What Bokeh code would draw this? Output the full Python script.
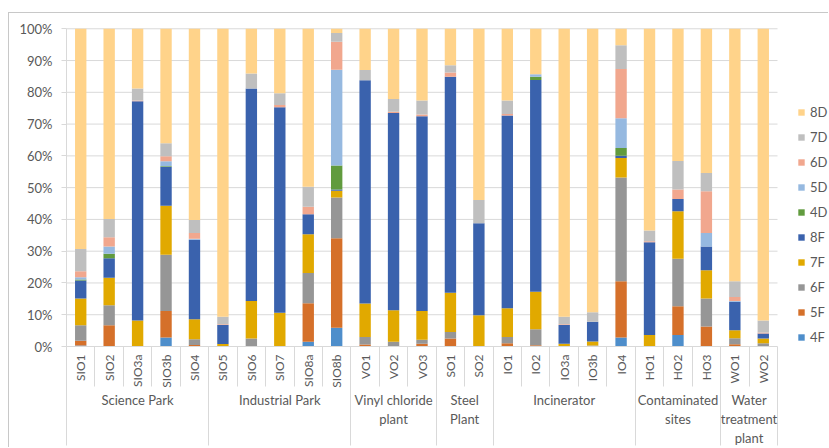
from math import pi
from bokeh.plotting import figure
from bokeh.models import (ColumnDataSource, Range1d, LinearAxis, FixedTicker, Legend,
                          LegendItem, NumeralTickFormatter)
from bokeh.embed import file_html
from bokeh.resources import INLINE

sites = ["SIO1", "SIO2", "SIO3a", "SIO3b", "SIO4", "SIO5", "SIO6", "SIO7", "SIO8a", "SIO8b",
         "VO1", "VO2", "VO3", "SO1", "SO2", "IO1", "IO2", "IO3a", "IO3b", "IO4",
         "HO1", "HO2", "HO3", "WO1", "WO2"]
groups = ["Science Park", "Industrial Park", "Vinyl chloride\nplant", "Steel\nPlant",
          "Incinerator", "Contaminated\nsites", "Water\ntreatment\nplant"]
group_sizes = [5, 5, 3, 2, 5, 3, 2]

series = ["4F", "5F", "6F", "7F", "8F", "4D", "5D", "6D", "7D", "8D"]
v4F = [0.3, 0, 0, 2.8, 0, 0, 0, 0, 1.5, 5.9, 0, 0, 0, 0, 0, 0, 0, 0, 0, 2.8, 0, 3.6, 0, 0, 0]
v5F = [1.5, 6.7, 0, 8.4, 0.5, 0, 0, 0, 12.1, 28.2, 0.6, 0, 0.9, 2.5, 0, 1.0, 0.4, 0, 0, 17.7, 0, 9.1, 6.3, 0.7, 0]
v6F = [4.9, 6.3, 0, 17.7, 1.8, 0, 2.5, 0, 9.5, 12.8, 2.4, 1.5, 1.2, 2.1, 0, 2.0, 5.0, 0, 0.3, 32.7, 0, 14.9, 8.8, 1.9, 1.0]
v7F = [8.4, 8.6, 8.2, 15.4, 6.3, 0.8, 11.8, 10.6, 12.2, 2.1, 10.5, 9.9, 9.1, 12.3, 9.8, 9.0, 11.8, 0.9, 1.3, 6.1, 3.6, 15.0, 8.9, 2.5, 1.5]
v8F = [5.7, 6.2, 69.0, 12.2, 25.0, 6.0, 66.9, 64.7, 6.3, 0.4, 70.3, 62.1, 61.3, 68.0, 29.0, 60.7, 66.7, 5.9, 6.2, 0.7, 29.2, 3.8, 7.5, 9.0, 1.6]
v4D = [0.3, 1.4, 0, 0.2, 0, 0, 0, 0, 0, 7.6, 0, 0, 0, 0, 0, 0, 1.0, 0, 0, 2.5, 0, 0, 0, 0, 0]
v5D = [0.7, 2.3, 0, 1.6, 0.3, 0, 0, 0, 0, 30.1, 0, 0, 0, 0, 0, 0, 0.8, 0, 0, 9.3, 0, 0, 4.2, 0.2, 0]
v6D = [1.9, 2.9, 0.2, 1.6, 1.8, 0.2, 0, 0.7, 2.4, 8.8, 0, 0.4, 0.5, 1.3, 0, 0.5, 0, 0.2, 0, 15.5, 0.3, 3.0, 13.2, 1.3, 0.3]
v7D = [7.0, 5.7, 3.8, 4.1, 4.1, 2.4, 4.7, 3.7, 6.3, 2.8, 3.2, 4.0, 4.4, 2.3, 7.3, 4.2, 0, 2.4, 3.0, 7.5, 3.4, 9.0, 5.7, 4.9, 3.8]
v8D = [69.3, 59.9, 18.8, 36.0, 60.2, 90.6, 14.1, 20.3, 49.7, 1.3, 13.0, 22.1, 22.6, 11.5, 53.9, 22.6, 14.3, 90.6, 89.2, 5.2, 63.5, 41.6, 45.4, 79.5, 91.8]
values = [v4F, v5F, v6F, v7F, v8F, v4D, v5D, v6D, v7D, v8D]
colors = ["#4E8ECB", "#D5702A", "#969696", "#E1A900", "#3A62AD",
          "#619B3E", "#96B9E0", "#F1A78E", "#BFBFBF", "#FFD38A"]
yticks = [i / 10 for i in range(11)]

TXT = "#595959"
GRID = "#d9d9d9"
FONT = "Lato"

n = len(sites)
x = [i + 0.5 for i in range(n)]
totals = [sum(v[i] for v in values) for i in range(n)]
data = {"x": x}
for s, v in zip(series, values):
    data[s] = [v[i] / totals[i] for i in range(n)]
src = ColumnDataSource(data)

# layout (page pixels): frame 66..829 horizontally, bars occupy 66..777
x_end = n * (829 - 66) / (777 - 66)
p = figure(width=820, height=435, output_backend="svg", toolbar_location=None,
           x_range=Range1d(0, x_end), y_range=Range1d(0, 1.004),
           x_axis_location=None, min_border_left=57, min_border_right=0,
           min_border_top=14, min_border_bottom=100)
p.stylesheets = [":host { margin-left: 8px; margin-top: 12px; "
                 "border-top: 1px solid #c8c8c8; border-left: 1px solid #c8c8c8; }"]
p.outline_line_color = None
p.xgrid.visible = False
p.ygrid.visible = False

gl = [t for t in yticks if t > 0]
p.segment(x0=[0] * len(gl), x1=[n] * len(gl), y0=gl, y1=gl,
          line_color=GRID, line_width=1, level="underlay")

rs = p.vbar_stack(series, x="x", width=0.4, color=colors, source=src, line_width=0)

ya = p.yaxis[0]
ya.ticker = FixedTicker(ticks=yticks)
ya.bounds = (0, 1)
ya.formatter = NumeralTickFormatter(format="0%")
ya.axis_line_color = GRID
ya.major_tick_line_color = GRID
ya.major_tick_out = 5
ya.major_tick_in = 0
ya.minor_tick_line_color = None
ya.major_label_standoff = 9
ya.major_label_text_font = FONT
ya.major_label_text_font_size = "13px"
ya.major_label_text_color = TXT

# site labels + separators between bars
xa1 = LinearAxis(ticker=FixedTicker(ticks=x, minor_ticks=list(range(n + 1))),
                 major_label_overrides={c: s for c, s in zip(x, sites)}, bounds=(0, n))
xa1.major_label_orientation = pi / 2
xa1.major_tick_line_color = None
xa1.major_tick_out = 0
xa1.major_tick_in = 0
xa1.minor_tick_out = 40
xa1.minor_tick_in = 0
xa1.minor_tick_line_color = GRID
xa1.axis_line_color = GRID
xa1.major_label_standoff = 8 - 40
xa1.major_label_text_font = FONT
xa1.major_label_text_font_size = "12px"
xa1.major_label_text_color = TXT
p.add_layout(xa1, "below")

# group labels + group separators
bounds = [0]
for g in group_sizes:
    bounds.append(bounds[-1] + g)
gcent = [(bounds[i] + bounds[i + 1]) / 2 for i in range(len(group_sizes))]
xa2 = LinearAxis(ticker=FixedTicker(ticks=gcent, minor_ticks=bounds),
                 major_label_overrides={c: g for c, g in zip(gcent, groups)}, bounds=(0, n))
xa2.major_tick_line_color = None
xa2.major_tick_out = 0
xa2.major_tick_in = 0
xa2.minor_tick_out = 55
xa2.minor_tick_in = 5
xa2.minor_tick_line_color = GRID
xa2.axis_line_color = None
xa2.major_label_standoff = -54
xa2.major_label_text_font = FONT
xa2.major_label_text_font_size = "13px"
xa2.major_label_text_color = TXT
xa2.major_label_text_line_height = 1.2
p.add_layout(xa2, "below")

items = [LegendItem(label=s, renderers=[r]) for s, r in zip(series, rs)][::-1]
legend = Legend(items=items, location=(731, 1), glyph_width=8, glyph_height=8,
                label_standoff=5, spacing=9, label_height=16, padding=0, margin=0,
                border_line_color=None, background_fill_alpha=0,
                label_text_font=FONT, label_text_font_size="13px", label_text_color=TXT)
p.add_layout(legend, "center")

open("out.html", "w").write(file_html(p, INLINE))
